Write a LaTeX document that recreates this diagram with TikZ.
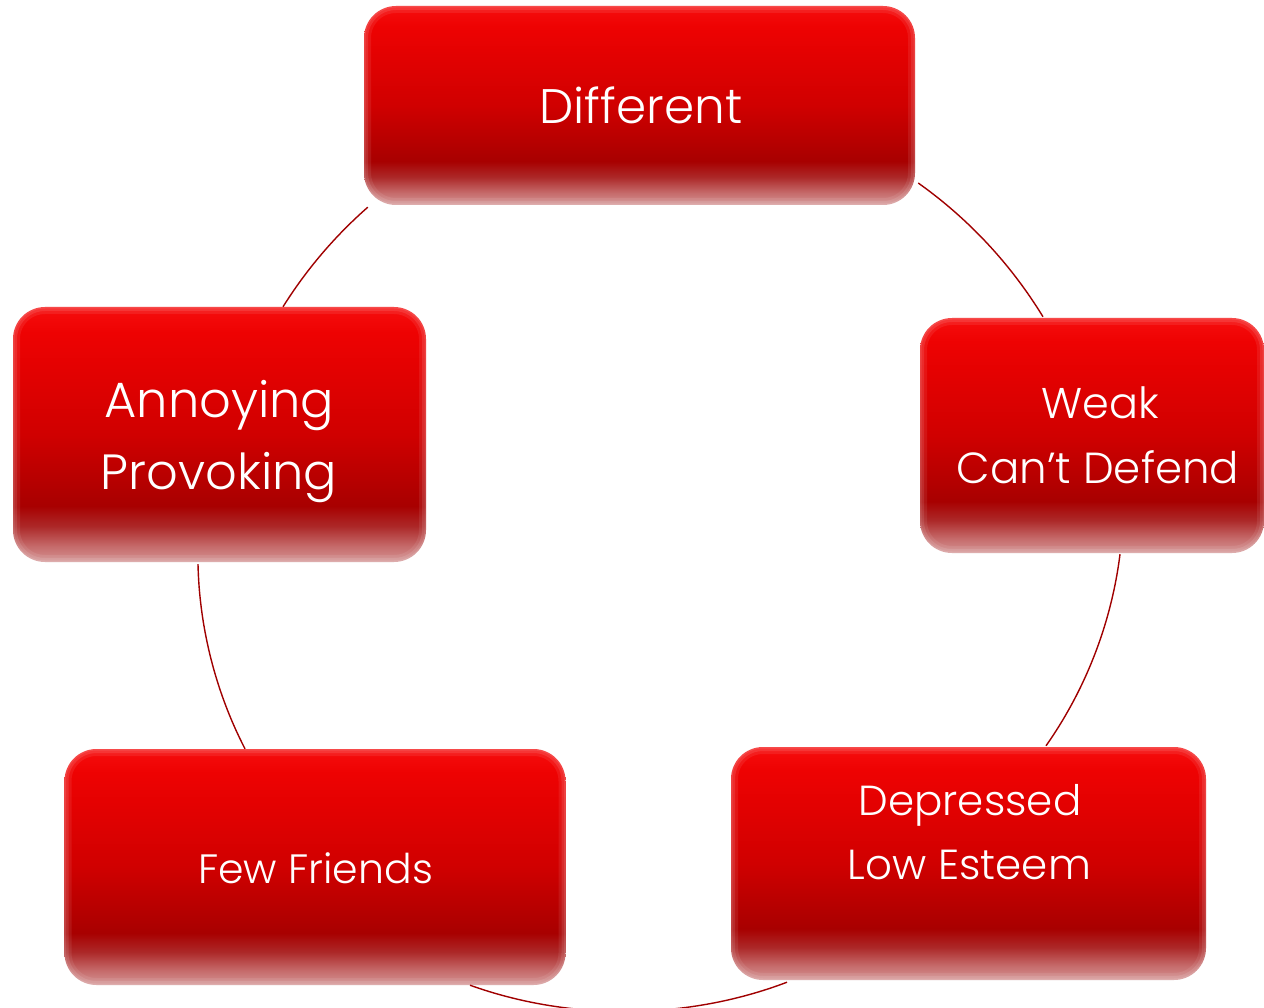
\documentclass[tikz,border=0pt]{standalone}
\usepackage{fontspec}
\newfontfamily\boxfont{Poppins Light}
\usetikzlibrary{calc}

% box fill colours, top to bottom
\definecolor{rb0}{RGB}{246,14,14}
\definecolor{rb1}{RGB}{238,2,2}
\definecolor{rb2}{RGB}{208,0,0}
\definecolor{rb3}{RGB}{168,0,0}
\definecolor{rb4}{RGB}{172,40,40}
\definecolor{rb5}{RGB}{198,108,108}
\definecolor{rb6}{RGB}{212,148,148}
\definecolor{linkred}{RGB}{160,0,0}

% the middle 25bp..75bp span covers the shaded path
\pgfdeclareverticalshading{redbox}{100bp}{%
  color(0bp)=(rb6); color(25bp)=(rb6); color(28bp)=(rb5);
  color(32bp)=(rb4); color(36bp)=(rb3); color(50bp)=(rb2);
  color(70bp)=(rb1); color(75bp)=(rb0); color(100bp)=(rb0)}

\tikzset{
  box/.style={rectangle, rounded corners=32pt, shading=redbox, draw=none,
    inner sep=0pt,
    postaction={draw=white, draw opacity=0.08, line width=14pt},
    postaction={draw=white, draw opacity=0.10, line width=8pt},
    postaction={draw=white, draw opacity=0.10, line width=3pt}},
  lbl/.style={text=white, inner sep=0pt, anchor=base},
  fs/.style={font=\boxfont\fontsize{#1}{#1}\selectfont},
  link/.style={draw=linkred, line width=1.4pt, looseness=0.86},
}

\begin{document}
\begin{tikzpicture}[x=1pt, y=-1pt]
  \fill[white] (0,0) rectangle (1264,1008);
  \useasboundingbox (0,0) rectangle (1264,1008);

  % the five stages of the cycle
  \node[box, minimum width=551pt, minimum height=199pt] (diff)  at (639.5,105.5) {};
  \node[box, minimum width=344pt, minimum height=235pt] (weak)  at (1092,435.5) {};
  \node[box, minimum width=475pt, minimum height=233pt] (depr)  at (968.5,863.5) {};
  \node[box, minimum width=501pt, minimum height=236pt] (few)   at (315,867) {};
  \node[box, minimum width=413pt, minimum height=255pt] (annoy) at (219.5,434.5) {};

  % labels
  \node[lbl, fs=48.5] (diff-a)  at (641,124)    {Different};
  \node[lbl, fs=49.5] (annoy-a) at (219.5,417)  {Annoying};
  \node[lbl, fs=49.5] (annoy-b) at (219,489)    {Provoking};
  \node[lbl, fs=43]   (weak-a)  at (1100.5,418) {Weak};
  \node[lbl, fs=43.5] (weak-b)  at (1098,483)   {Can’t Defend};
  \node[lbl, fs=42]   (depr-a)  at (970,815)    {Depressed};
  \node[lbl, fs=42]   (depr-b)  at (969.5,879)  {Low Esteem};
  \node[lbl, fs=41]   (few-a)   at (315.5,883)  {Few Friends};

  % ends of the connecting arcs on the box borders
  \coordinate (c1)  at ($(diff.east)+(3,77.5)$);
  \coordinate (c2)  at ($(weak.north)+(-49,-1)$);
  \coordinate (c3)  at ($(weak.south)+(28,1)$);
  \coordinate (c4)  at ($(depr.north)+(77.5,-1)$);
  \coordinate (c5)  at ($(depr.south)+(-181.5,2)$);
  \coordinate (c6)  at ($(few.south)+(155,0)$);
  \coordinate (c7)  at ($(few.north)+(-70,0)$);
  \coordinate (c8)  at ($(annoy.south)+(-21.5,2)$);
  \coordinate (c9)  at ($(annoy.north)+(63.5,0)$);
  \coordinate (c10) at ($(diff.south west)+(4,2)$);

  % clockwise arcs round the cycle
  \draw[link] (c1) to[bend left=11.6] (c2);
  \draw[link] (c3) to[bend left=14]   (c4);
  \draw[link] (c5) to[bend left=20.3] (c6);
  \draw[link] (c7) to[bend left=13]   (c8);
  \draw[link] (c9) to[bend left=8.3]  (c10);
\end{tikzpicture}
\end{document}
